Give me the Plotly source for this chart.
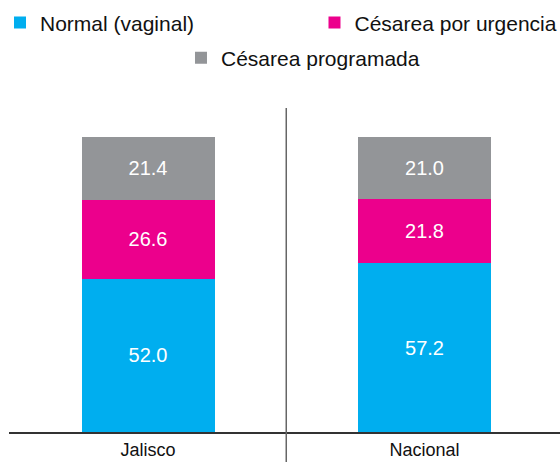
import plotly.graph_objects as go

categories = ["Jalisco", "Nacional"]
normal = [52.0, 57.2]
urgencia = [26.6, 21.8]
programada = [21.4, 21.0]

series = [
    ("Normal (vaginal)", normal, "#00AEEF", "legend"),
    ("Césarea por urgencia", urgencia, "#EC008C", "legend2"),
    ("Césarea programada", programada, "#939598", "legend3"),
]

FONT = "Liberation Sans, Arial"

fig = go.Figure()
for name, vals, color, lg in series:
    fig.add_trace(go.Bar(
        x=categories, y=vals, name=name, marker=dict(color=color, line=dict(width=0)),
        text=vals, texttemplate="%{y:.1f}", textposition="inside",
        insidetextanchor="middle", textangle=0,
        textfont=dict(color="white", size=20, family=FONT),
        legend=lg,
    ))

leg_common = dict(orientation="h", xref="container", yref="container",
                  xanchor="left", yanchor="top",
                  font=dict(size=21, color="#111", family=FONT),
                  bgcolor="rgba(0,0,0,0)", itemclick=False, itemdoubleclick=False)

fig.update_layout(
    template="none",
    barmode="stack",
    bargap=0.519,
    width=560, height=462,
    margin=dict(l=9, r=0, t=108, b=30, autoexpand=False),
    plot_bgcolor="white", paper_bgcolor="white",
    font=dict(family=FONT, size=18, color="#111"),
    uniformtext=dict(minsize=10, mode="show"),
    xaxis=dict(range=[-0.5027, 1.490], showline=True, linecolor="#333", linewidth=2,
               ticks="", showgrid=False, zeroline=False,
               tickfont=dict(size=18, color="#111", family=FONT), automargin=False),
    yaxis=dict(range=[0, 109.8], visible=False, showgrid=False, zeroline=False,
               automargin=False),
    legend=dict(x=-0.0036, y=0.995, **leg_common),
    legend2=dict(x=0.5616, y=0.995, **leg_common),
    legend3=dict(x=0.3232, y=0.9188, **leg_common),
    showlegend=True,
)

fig.add_shape(type="line", xref="x", yref="paper", x0=0.5, x1=0.5, y0=-0.1, y1=1.0,
              line=dict(color="#666", width=1.5))

fig.write_html("out.html", config={"displayModeBar": False},
               post_script="document.body.style.margin='0';")
